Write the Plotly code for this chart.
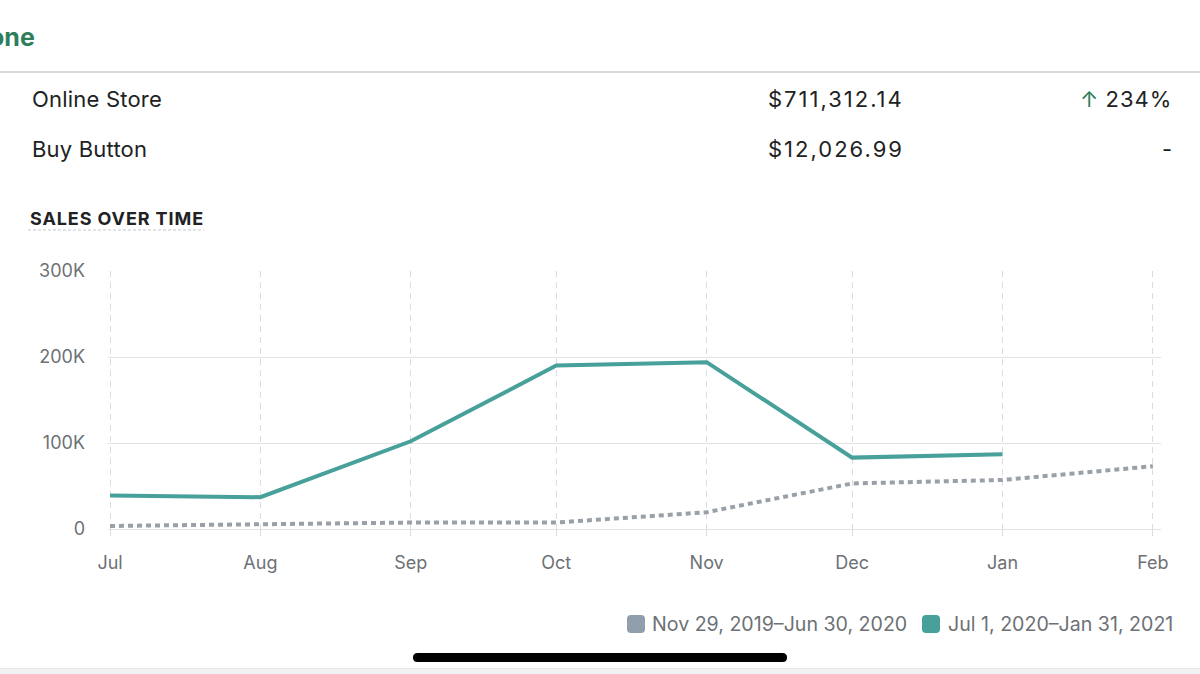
import plotly.graph_objects as go

# ---- data ----
months = ["2020-07-01", "2020-08-01", "2020-09-01", "2020-10-01",
          "2020-11-01", "2020-12-01", "2021-01-01", "2021-02-01"]
month_labels = ["Jul", "Aug", "Sep", "Oct", "Nov", "Dec", "Jan", "Feb"]
current_dates = months[:7]
current_sales = [39000, 37000, 102000, 190000, 194000, 83000, 87000]
previous_dates = months
previous_sales = [3500, 5500, 7500, 7500, 19500, 53000, 57000, 73000]
y_ticks = [0, 100000, 200000, 300000]
y_tick_labels = ["0", "100K", "200K", "300K"]
current_label = "Jul 1, 2020–Jan 31, 2021"
previous_label = "Nov 29, 2019–Jun 30, 2020"
channels = ["Online Store", "Buy Button"]
channel_sales = ["$711,312.14", "$12,026.99"]
channel_change = ["↑ 234%", "-"]

TEAL = "#47a09a"
GRAY = "#9aa0a8"
LEG_GRAY = "#919eab"
TEXT = "#202223"
SUB = "#6d7175"
GREEN = "#2e7d5b"
FONT = "Inter, Liberation Sans, sans-serif"

W, H = 1200, 674
L, R_EDGE, T, B_EDGE = 108, 1161, 271, 529

def px(x):
    return (x - L) / (R_EDGE - L)

def py(y):
    return (B_EDGE - y) / (B_EDGE - T)

fig = go.Figure()
fig.add_trace(go.Scatter(x=previous_dates, y=previous_sales, mode="lines",
                         line=dict(color=GRAY, width=4, dash="5px,4px"),
                         name=previous_label, hoverinfo="skip"))
fig.add_trace(go.Scatter(x=current_dates, y=current_sales, mode="lines",
                         line=dict(color=TEAL, width=4),
                         name=current_label, hoverinfo="skip"))

fig.update_layout(
    width=W, height=H, autosize=False,
    margin=dict(l=L, r=W - R_EDGE, t=T, b=H - B_EDGE, pad=0),
    paper_bgcolor="white", plot_bgcolor="white",
    showlegend=False,
    font=dict(family=FONT, color=SUB),
    xaxis=dict(
        type="date",
        range=["2020-06-30 14:00", "2021-02-02 16:00"],
        tickvals=months, ticktext=month_labels,
        showgrid=True, gridcolor="#d9dde2", griddash="6px,5px", gridwidth=1,
        ticks="outside", ticklen=6, tickcolor="#d9dde2", tickwidth=1,
        ticklabelstandoff=11,
        tickfont=dict(size=18, color=SUB, family=FONT),
        showline=False, zeroline=False, fixedrange=True,
    ),
    yaxis=dict(
        range=[0, 300000],
        tickvals=y_ticks, ticktext=y_tick_labels,
        showgrid=True, gridcolor="#e1e3e5", gridwidth=1.2,
        zeroline=True, zerolinecolor="#e1e3e5", zerolinewidth=1.2,
        ticks="", ticklabelstandoff=22,
        tickfont=dict(size=18, color=SUB, family=FONT),
        showline=False, fixedrange=True,
    ),
)

ann = []
def add_text(text, x, y, size, color=TEXT, xanchor="left", bold=False, spacing=0):
    if spacing:
        text = "<span style='letter-spacing:%spx'>%s</span>" % (spacing, text)
    ann.append(dict(text=("<b>%s</b>" % text) if bold else text,
                    x=px(x), y=py(y), xref="paper", yref="paper",
                    xanchor=xanchor, yanchor="middle", showarrow=False,
                    font=dict(size=size, color=color, family=FONT)))

add_text("one", 37, 37, 25, color=GREEN, xanchor="right", bold=True)
row_y = [99, 149]
for i, ch in enumerate(channels):
    add_text(ch, 30, row_y[i], 22, spacing=0.2)
    add_text(channel_sales[i], 906, row_y[i], 22, xanchor="right", spacing=2.0)
    chg = channel_change[i]
    if chg.startswith("↑"):
        chg = ("<span style='color:%s'>↑</span>"
               "<span style='letter-spacing:1px'>%s</span>") % (GREEN, chg[1:])
    add_text(chg, 1174, row_y[i], 22, xanchor="right")
add_text("SALES OVER TIME", 28, 218, 18, xanchor="left", bold=True, spacing=0.9)

# legend texts
add_text(previous_label, 650, 624, 19.6, color=SUB)
add_text(current_label, 946, 624, 19.6, color=SUB)
fig.update_layout(annotations=ann)

shapes = []
# header divider
shapes.append(dict(type="line", xref="paper", yref="paper",
                   x0=px(0), x1=px(1200), y0=py(72), y1=py(72),
                   line=dict(color="#c9cccf", width=1.5)))
# dashed underline of section title
shapes.append(dict(type="line", xref="paper", yref="paper",
                   x0=px(28), x1=px(204), y0=py(230), y1=py(230),
                   line=dict(color="#c4c9cf", width=1.2, dash="3px,2px")))

def rounded_rect(x0, y0, x1, y1, r, color):
    X = lambda v: px(v)
    Y = lambda v: py(v)
    path = ("M {a},{b} L {c},{b} Q {d},{b} {d},{e} L {d},{f} Q {d},{g} {c},{g} "
            "L {a},{g} Q {h},{g} {h},{f} L {h},{e} Q {h},{b} {a},{b} Z").format(
        a=X(x0 + r), b=Y(y0), c=X(x1 - r), d=X(x1), e=Y(y0 + r),
        f=Y(y1 - r), g=Y(y1), h=X(x0))
    return dict(type="path", xref="paper", yref="paper", path=path,
                fillcolor=color, line=dict(width=0))

shapes.append(rounded_rect(627, 615, 645, 633, 4, LEG_GRAY))
shapes.append(rounded_rect(922, 615, 940, 633, 4, TEAL))
# home indicator bar
shapes.append(rounded_rect(413, 653, 787, 662, 4.5, "#000000"))
# bottom light band
shapes.append(dict(type="rect", xref="paper", yref="paper",
                   x0=px(0), x1=px(1200), y0=py(668), y1=py(674),
                   fillcolor="#f1f2f3", line=dict(width=0), layer="below"))
shapes.append(dict(type="line", xref="paper", yref="paper",
                   x0=px(0), x1=px(1200), y0=py(668.5), y1=py(668.5),
                   line=dict(color="#e4e5e7", width=1)))
fig.update_layout(shapes=shapes)

fig.write_html("out.html", config={"displayModeBar": False},
               post_script="document.body.style.margin='0';")
